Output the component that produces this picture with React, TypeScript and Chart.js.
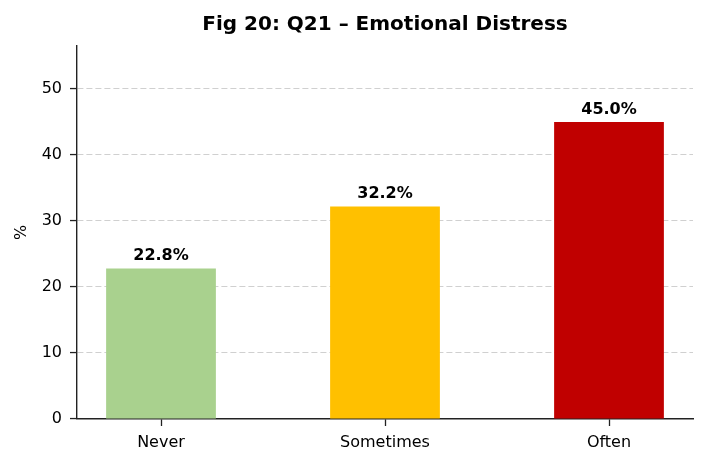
import React, { useEffect, useRef } from "react";
import { Chart, registerables } from "chart.js";

Chart.register(...registerables);

const categories = ["Never", "Sometimes", "Often"];
const percentages = [22.8, 32.2, 45.0];
const barColors = ["#a9d18e", "#ffc000", "#c00000"];
const yTicks = [0, 10, 20, 30, 40, 50];

const FONT = "'DejaVu Sans', sans-serif";

const textPlugin = {
	id: "textPlugin",
	afterDatasetsDraw(chart: any) {
		const { ctx, chartArea, scales } = chart;
		ctx.save();
		ctx.fillStyle = "#000";
		// bar value labels
		ctx.font = `bold 16px ${FONT}`;
		ctx.textAlign = "center";
		ctx.textBaseline = "alphabetic";
		const meta = chart.getDatasetMeta(0);
		meta.data.forEach((bar: any, i: number) => {
			ctx.fillText(`${percentages[i].toFixed(1)}%`, bar.x, bar.y - 8);
		});
		// title
		ctx.font = `bold 20px ${FONT}`;
		ctx.fillText("Fig 20: Q21 – Emotional Distress", (chartArea.left + chartArea.right) / 2, 30);
		// y axis title
		ctx.font = `16px ${FONT}`;
		ctx.textBaseline = "middle";
		ctx.translate(22, (scales.y.top + scales.y.bottom) / 2);
		ctx.rotate(-Math.PI / 2);
		ctx.fillText("%", 0, 0);
		ctx.restore();
	},
};

const App: React.FC = () => {
	const chartRef = useRef<HTMLCanvasElement | null>(null);

	useEffect(() => {
		document.body.style.margin = "0";
		if (!chartRef.current) return;
		const ctx = chartRef.current.getContext("2d");
		if (!ctx) return;
		const chart = new Chart(ctx, {
			type: "bar",
			data: {
				datasets: [
					{
						data: percentages.map((v, i) => ({ x: i, y: v })),
						backgroundColor: barColors,
						categoryPercentage: 1,
						barPercentage: 0.49,
					},
				],
			},
			options: {
				animation: false,
				responsive: false,
				layout: { padding: { top: 46, right: 14, left: 0, bottom: 0 } },
				plugins: { legend: { display: false }, title: { display: false }, tooltip: { enabled: false } },
				scales: {
					x: {
						type: "linear",
						offset: false,
						min: -0.375,
						max: 2.375,
						afterBuildTicks: (axis: any) => {
							axis.ticks = categories.map((_, i) => ({ value: i }));
						},
						afterFit: (axis: any) => {
							axis.height = 48;
						},
						ticks: {
							callback: (v: any) => categories[v] ?? "",
							color: "#000",
							font: { family: FONT, size: 16 },
							padding: 7,
							maxRotation: 0,
						},
						grid: {
							offset: false,
							drawOnChartArea: false,
							drawTicks: true,
							tickLength: 7,
							tickColor: "#222",
							tickWidth: 1.3,
						},
						border: { color: "#222", width: 1.4 },
					},
					y: {
						min: 0,
						max: 56.5,
						afterBuildTicks: (axis: any) => {
							axis.ticks = yTicks.map((v) => ({ value: v }));
						},
						afterFit: (axis: any) => {
							axis.width = 77;
						},
						ticks: {
							color: "#000",
							font: { family: FONT, size: 16 },
							padding: 8,
						},
						grid: {
							color: "#d0d0d0",
							lineWidth: 1.1,
							tickLength: 7,
							tickColor: "#222",
							tickWidth: 1.3,
							tickBorderDash: [],
						},
						border: { color: "#222", width: 1.4, dash: [6, 3] },
					},
				},
			},
			plugins: [textPlugin],
		});
		return () => {
			chart.destroy();
		};
	}, []);

	return (
		<div style={{ width: 707, height: 467, background: "#fff" }}>
			<canvas ref={(ref) => (chartRef.current = ref)} width={707} height={467} style={{ width: 707, height: 467, display: "block" }} />
		</div>
	);
};

export default App;
